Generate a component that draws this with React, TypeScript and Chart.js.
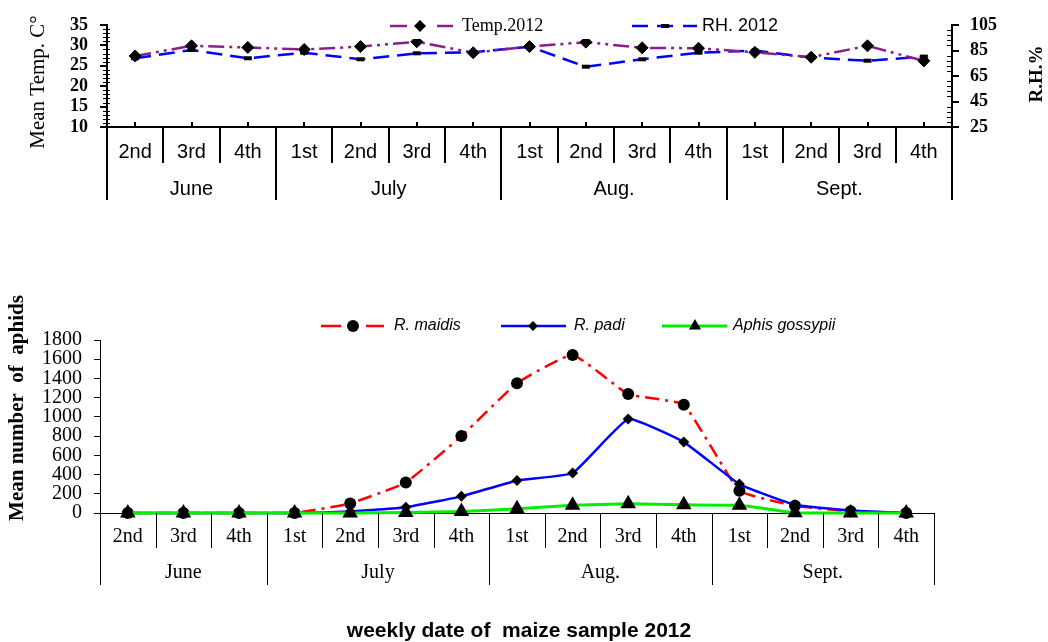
import React, { useEffect, useRef } from 'react';
import { Chart, registerables } from 'chart.js';

Chart.register(...registerables);

const SERIF = '"Liberation Serif", "Times New Roman", serif';
const SANS = '"Liberation Sans", Arial, sans-serif';

// ---- data ----
const weeks = ['2nd', '3rd', '4th', '1st', '2nd', '3rd', '4th', '1st', '2nd', '3rd', '4th', '1st', '2nd', '3rd', '4th'];
const months = ['June', 'July', 'Aug.', 'Sept.'];
const weeksPerMonth = [3, 4, 4, 4];

const temp2012 = [27.4, 29.9, 29.5, 29.0, 29.7, 30.9, 28.2, 29.7, 30.8, 29.4, 29.3, 28.3, 27.1, 29.9, 26.2];
const rh2012 = [78.9, 85.4, 78.9, 83.3, 78.1, 82.8, 83.6, 88.0, 72.3, 78.1, 83.3, 84.9, 79.4, 77.0, 80.2];

const rMaidis = [0, 0, 0, 0, 100, 318, 800, 1350, 1645, 1237, 1126, 232, 76, 17, 0];
const rPadi = [0, 0, 0, 0, 15, 60, 173, 339, 416, 977, 738, 301, 86, 27, 0];
const aphisGossypii = [0, 0, 0, 0, 0, 5, 15, 45, 80, 95, 85, 80, 3, 0, 0];

const tempTicks = [10, 15, 20, 25, 30, 35];
const rhTicks = [25, 45, 65, 85, 105];
const aphidTicks = [0, 200, 400, 600, 800, 1000, 1200, 1400, 1600, 1800];

const PURPLE = '#8A1F8A';
const BLUE = '#0000FF';
const RED = '#FF0000';
const GREEN = '#00F000';

const TEMP_DASH = [16, 5, 3, 5, 3, 5];
const RH_DASH = [16, 8];
const MAIDIS_DASH = [14, 6, 3, 6];

// ---- helpers ----
function fixSize(size: number) {
  return (s: any) => {
    if (s.isHorizontal()) s.height = size;
    else s.width = size;
    s.paddingTop = 0;
    s.paddingBottom = 0;
    s.paddingLeft = 0;
    s.paddingRight = 0;
  };
}

function setTicks(values: number[]) {
  return (s: any) => {
    s.ticks = values.map((v) => ({ value: v }));
  };
}

const plainNumber = (v: any) => String(v);

function drawMarker(ctx: CanvasRenderingContext2D, kind: string, x: number, y: number, r: number) {
  ctx.save();
  ctx.fillStyle = '#000';
  ctx.setLineDash([]);
  ctx.beginPath();
  if (kind === 'diamond') {
    ctx.moveTo(x - r, y);
    ctx.lineTo(x, y - r);
    ctx.lineTo(x + r, y);
    ctx.lineTo(x, y + r);
    ctx.closePath();
    ctx.fill();
  } else if (kind === 'circle') {
    ctx.arc(x, y, r, 0, Math.PI * 2);
    ctx.fill();
  } else if (kind === 'triangle') {
    const dx = r * Math.sin(Math.PI / 3);
    ctx.moveTo(x, y - r);
    ctx.lineTo(x + dx, y + r / 2);
    ctx.lineTo(x - dx, y + r / 2);
    ctx.closePath();
    ctx.fill();
  } else if (kind === 'dash') {
    ctx.fillRect(x - r, y - 2, 2 * r, 4);
  }
  ctx.restore();
}

type LegendItem = {
  label: string;
  color: string;
  width: number;
  segments: number[][];
  marker: string;
  markerX: number;
  markerR: number;
  textX: number;
  font: string;
};

function legendPlugin(items: LegendItem[], y: number, bg?: number[]) {
  return {
    id: 'customLegend',
    afterDraw(chart: any) {
      const ctx: CanvasRenderingContext2D = chart.ctx;
      ctx.save();
      if (bg) {
        ctx.fillStyle = '#fff';
        ctx.fillRect(bg[0], bg[1], bg[2], bg[3]);
      }
      items.forEach((it) => {
        ctx.strokeStyle = it.color;
        ctx.lineWidth = it.width;
        ctx.setLineDash([]);
        it.segments.forEach(([a, b]) => {
          ctx.beginPath();
          ctx.moveTo(a, y);
          ctx.lineTo(b, y);
          ctx.stroke();
        });
        drawMarker(ctx, it.marker, it.markerX, y, it.markerR);
        ctx.font = it.font;
        ctx.fillStyle = '#000';
        ctx.textAlign = 'left';
        ctx.textBaseline = 'middle';
        ctx.fillText(it.label, it.textX, y);
      });
      ctx.restore();
    },
  };
}

function tablePlugin(cfg: {
  weekBottom: number;
  monthBottom: number;
  monthLabelY: number;
  font: string;
  lineWidth: number;
  centerTicks: boolean;
}) {
  return {
    id: 'catTable',
    afterDraw(chart: any) {
      const ctx: CanvasRenderingContext2D = chart.ctx;
      const xs = chart.scales.x;
      const area = chart.chartArea;
      const c0 = xs.getPixelForValue(0);
      const step = xs.getPixelForValue(1) - c0;
      const b = (k: number) => c0 - step / 2 + k * step;
      const axisY = area.bottom;
      const monthBounds = [0];
      let acc = 0;
      weeksPerMonth.forEach((n) => {
        acc += n;
        monthBounds.push(acc);
      });
      ctx.save();
      ctx.strokeStyle = '#000';
      ctx.lineWidth = cfg.lineWidth;
      ctx.setLineDash([]);
      for (let k = 0; k <= weeks.length; k++) {
        const isMonth = monthBounds.includes(k);
        const x = Math.round(b(k)) + (cfg.lineWidth % 2 ? 0.5 : 0);
        ctx.beginPath();
        ctx.moveTo(x, axisY);
        ctx.lineTo(x, isMonth ? cfg.monthBottom : cfg.weekBottom);
        ctx.stroke();
      }
      if (cfg.centerTicks) {
        for (let i = 0; i < weeks.length; i++) {
          const x = Math.round(xs.getPixelForValue(i));
          ctx.beginPath();
          ctx.moveTo(x, axisY - 5);
          ctx.lineTo(x, axisY);
          ctx.stroke();
        }
      }
      ctx.font = cfg.font;
      ctx.fillStyle = '#000';
      ctx.textAlign = 'center';
      ctx.textBaseline = 'middle';
      months.forEach((m, j) => {
        const mid = (b(monthBounds[j]) + b(monthBounds[j + 1])) / 2;
        ctx.fillText(m, mid, cfg.monthLabelY);
      });
      ctx.restore();
    },
  };
}

type TitleSpec = { text: string; x: number; y: number; font: string; rotate: boolean };

function titlesPlugin(titles: TitleSpec[]) {
  return {
    id: 'customTitles',
    afterDraw(chart: any) {
      const ctx: CanvasRenderingContext2D = chart.ctx;
      titles.forEach((t) => {
        ctx.save();
        ctx.translate(t.x, t.y);
        if (t.rotate) ctx.rotate(-Math.PI / 2);
        ctx.font = t.font;
        ctx.fillStyle = '#000';
        ctx.textAlign = 'center';
        ctx.textBaseline = 'middle';
        ctx.fillText(t.text, 0, 0);
        ctx.restore();
      });
    },
  };
}

function minorTicksPlugin() {
  return {
    id: 'minorTicks',
    afterDraw(chart: any) {
      const ctx: CanvasRenderingContext2D = chart.ctx;
      const area = chart.chartArea;
      const y = chart.scales.y;
      const y1 = chart.scales.y1;
      ctx.save();
      ctx.strokeStyle = '#000';
      ctx.lineWidth = 1;
      for (let v = 10; v <= 35; v += 1) {
        if (v % 5 === 0) continue;
        const py = Math.round(y.getPixelForValue(v)) + 0.5;
        ctx.beginPath();
        ctx.moveTo(area.left - 4, py);
        ctx.lineTo(area.left + 3, py);
        ctx.stroke();
      }
      for (let v = 25; v <= 105; v += 4) {
        if ((v - 25) % 20 === 0) continue;
        const py = Math.round(y1.getPixelForValue(v)) + 0.5;
        ctx.beginPath();
        ctx.moveTo(area.right - 5, py);
        ctx.lineTo(area.right + 1, py);
        ctx.stroke();
      }
      ctx.restore();
    },
  };
}

function topConfig(): any {
  return {
    type: 'line',
    data: {
      labels: weeks,
      datasets: [
        {
          label: 'Temp.2012',
          data: temp2012,
          yAxisID: 'y',
          borderColor: PURPLE,
          borderWidth: 2.5,
          borderDash: TEMP_DASH,
          pointStyle: 'rectRot',
          pointRadius: 6,
          pointBackgroundColor: '#000',
          pointBorderColor: '#000',
          pointBorderWidth: 1,
          tension: 0,
          clip: false,
        },
        {
          label: 'RH. 2012',
          data: rh2012,
          yAxisID: 'y1',
          borderColor: BLUE,
          borderWidth: 2.5,
          borderDash: RH_DASH,
          pointStyle: 'line',
          pointRadius: 4,
          pointBorderColor: '#000',
          pointBackgroundColor: '#000',
          pointBorderWidth: 4,
          tension: 0,
          clip: false,
        },
      ],
    },
    options: {
      animation: false,
      responsive: false,
      devicePixelRatio: 1,
      events: [],
      layout: { padding: { top: 25, left: 0, right: 0, bottom: 0 } },
      plugins: { legend: { display: false }, tooltip: { enabled: false } },
      scales: {
        x: {
          type: 'category',
          offset: true,
          grid: { display: false, drawTicks: false, offset: true },
          border: { display: true, color: '#000', width: 2 },
          ticks: {
            font: { family: SANS, size: 20 },
            color: '#000',
            padding: 13,
            maxRotation: 0,
            minRotation: 0,
            autoSkip: false,
          },
          afterFit: fixSize(83),
        },
        y: {
          position: 'left',
          min: 10,
          max: 35,
          afterBuildTicks: setTicks(tempTicks),
          ticks: {
            font: { family: SERIF, size: 18, weight: 'bold' },
            color: '#000',
            padding: 12,
            autoSkip: false,
            callback: plainNumber,
          },
          grid: { drawOnChartArea: false, drawTicks: true, tickLength: 7, color: '#000', lineWidth: 2 },
          border: { display: true, color: '#000', width: 2 },
          afterFit: fixSize(107),
        },
        y1: {
          position: 'right',
          min: 25,
          max: 105,
          afterBuildTicks: setTicks(rhTicks),
          ticks: {
            font: { family: SERIF, size: 18, weight: 'bold' },
            color: '#000',
            padding: 11,
            autoSkip: false,
            callback: plainNumber,
          },
          grid: { drawOnChartArea: false, drawTicks: true, tickLength: 7, color: '#000', lineWidth: 2 },
          border: { display: true, color: '#000', width: 2 },
          afterFit: fixSize(96),
        },
      },
    },
    plugins: [
      minorTicksPlugin(),
      tablePlugin({
        weekBottom: 163,
        monthBottom: 200,
        monthLabelY: 189,
        font: `20px ${SANS}`,
        lineWidth: 2,
        centerTicks: true,
      }),
      legendPlugin(
        [
          {
            label: 'Temp.2012',
            color: PURPLE,
            width: 2.5,
            segments: [
              [390, 407],
              [437, 453],
            ],
            marker: 'diamond',
            markerX: 420,
            markerR: 6,
            textX: 462,
            font: `18px ${SERIF}`,
          },
          {
            label: 'RH. 2012',
            color: BLUE,
            width: 2.5,
            segments: [
              [632, 648],
              [657, 673],
              [683, 697],
            ],
            marker: 'dash',
            markerX: 665,
            markerR: 4,
            textX: 702,
            font: `18px ${SANS}`,
          },
        ],
        26,
        [380, 10, 410, 29]
      ),
      titlesPlugin([
        { text: 'Mean Temp. C°', x: 38, y: 82, font: `21px ${SERIF}`, rotate: true },
        { text: 'R.H.%', x: 1037, y: 74, font: `bold 19px ${SERIF}`, rotate: true },
      ]),
    ],
  };
}

function bottomConfig(): any {
  return {
    type: 'line',
    data: {
      labels: weeks,
      datasets: [
        {
          label: 'Aphis gossypii',
          data: aphisGossypii,
          borderColor: GREEN,
          borderWidth: 3,
          pointStyle: 'triangle',
          pointRadius: 9,
          pointBackgroundColor: '#000',
          pointBorderColor: '#000',
          pointBorderWidth: 0,
          tension: 0.12,
          clip: false,
        },
        {
          label: 'R. padi',
          data: rPadi,
          borderColor: BLUE,
          borderWidth: 2.5,
          pointStyle: 'rectRot',
          pointRadius: 5.5,
          pointBackgroundColor: '#000',
          pointBorderColor: '#000',
          pointBorderWidth: 0,
          tension: 0.12,
          clip: false,
        },
        {
          label: 'R. maidis',
          data: rMaidis,
          borderColor: RED,
          borderWidth: 2.5,
          borderDash: MAIDIS_DASH,
          pointStyle: 'circle',
          pointRadius: 6,
          pointBackgroundColor: '#000',
          pointBorderColor: '#000',
          pointBorderWidth: 0,
          tension: 0.12,
          clip: false,
        },
      ],
    },
    options: {
      animation: false,
      responsive: false,
      devicePixelRatio: 1,
      events: [],
      layout: { padding: { top: 50, left: 0, right: 114, bottom: 0 } },
      plugins: { legend: { display: false }, tooltip: { enabled: false } },
      scales: {
        x: {
          type: 'category',
          offset: true,
          grid: { display: false, drawTicks: false, offset: true },
          border: { display: true, color: '#000', width: 1 },
          ticks: {
            font: { family: SERIF, size: 20 },
            color: '#000',
            padding: 12,
            maxRotation: 0,
            minRotation: 0,
            autoSkip: false,
          },
          afterFit: fixSize(129),
        },
        y: {
          position: 'left',
          min: 0,
          max: 1800,
          afterBuildTicks: setTicks(aphidTicks),
          ticks: {
            font: { family: SERIF, size: 20 },
            color: '#000',
            padding: 12,
            autoSkip: false,
            callback: plainNumber,
          },
          grid: { drawOnChartArea: false, drawTicks: true, tickLength: 6, color: '#000', lineWidth: 1 },
          border: { display: true, color: '#000', width: 1 },
          afterFit: fixSize(100),
        },
      },
    },
    plugins: [
      tablePlugin({
        weekBottom: 258,
        monthBottom: 295,
        monthLabelY: 283,
        font: `20px ${SERIF}`,
        lineWidth: 1,
        centerTicks: false,
      }),
      legendPlugin(
        [
          {
            label: 'R. maidis',
            color: RED,
            width: 2.5,
            segments: [
              [321, 341],
              [366, 384],
            ],
            marker: 'circle',
            markerX: 353,
            markerR: 6,
            textX: 394,
            font: `italic 16px ${SANS}`,
          },
          {
            label: 'R. padi',
            color: BLUE,
            width: 2.5,
            segments: [[501, 566]],
            marker: 'diamond',
            markerX: 533,
            markerR: 5,
            textX: 574,
            font: `italic 16px ${SANS}`,
          },
          {
            label: 'Aphis gossypii',
            color: GREEN,
            width: 3,
            segments: [[662, 727]],
            marker: 'triangle',
            markerX: 695,
            markerR: 7,
            textX: 733,
            font: `italic 16px ${SANS}`,
          },
        ],
        36
      ),
      titlesPlugin([
        { text: 'Mean number  of  aphids', x: 18, y: 118, font: `bold 21px ${SERIF}`, rotate: true },
        { text: 'weekly date of  maize sample 2012', x: 519, y: 341, font: `bold 21px ${SANS}`, rotate: false },
      ]),
    ],
  };
}

export default function App() {
  const topRef = useRef<HTMLCanvasElement>(null);
  const botRef = useRef<HTMLCanvasElement>(null);

  useEffect(() => {
    const c1 = new Chart(topRef.current as HTMLCanvasElement, topConfig());
    const c2 = new Chart(botRef.current as HTMLCanvasElement, bottomConfig());
    return () => {
      c1.destroy();
      c2.destroy();
    };
  }, []);

  return (
    <div style={{ position: 'absolute', left: 0, top: 0, width: 1048, height: 642, background: '#fff' }}>
      <canvas ref={topRef} width={1048} height={210} style={{ position: 'absolute', left: 0, top: 0 }} />
      <canvas ref={botRef} width={1048} height={352} style={{ position: 'absolute', left: 0, top: 290 }} />
    </div>
  );
}
